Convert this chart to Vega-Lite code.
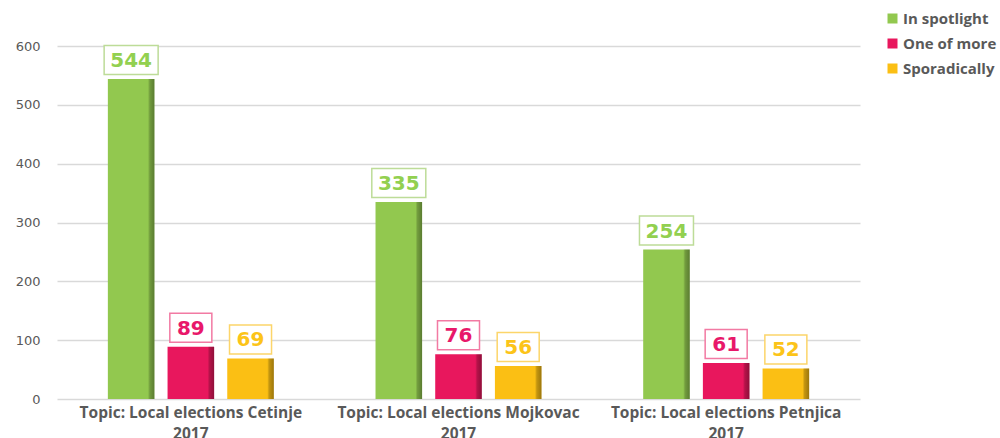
{
  "$schema": "https://vega.github.io/schema/vega-lite/v6.json",
  "width": 803,
  "height": 353,
  "autosize": {"type": "none"},
  "padding": {"left": 57, "top": 46, "right": 140, "bottom": 39},
  "background": "white",
  "config": {"view": {"stroke": null}, "font": "DejaVu Sans"},
  "data": {
    "values": [
      {"topic": "Topic: Local elections Cetinje 2017", "series": "In spotlight", "value": 544},
      {"topic": "Topic: Local elections Cetinje 2017", "series": "One of more", "value": 89},
      {"topic": "Topic: Local elections Cetinje 2017", "series": "Sporadically", "value": 69},
      {"topic": "Topic: Local elections Mojkovac 2017", "series": "In spotlight", "value": 335},
      {"topic": "Topic: Local elections Mojkovac 2017", "series": "One of more", "value": 76},
      {"topic": "Topic: Local elections Mojkovac 2017", "series": "Sporadically", "value": 56},
      {"topic": "Topic: Local elections Petnjica 2017", "series": "In spotlight", "value": 254},
      {"topic": "Topic: Local elections Petnjica 2017", "series": "One of more", "value": 61},
      {"topic": "Topic: Local elections Petnjica 2017", "series": "Sporadically", "value": 52}
    ]
  },
  "encoding": {
    "x": {
      "field": "topic",
      "type": "nominal",
      "sort": null,
      "scale": {"paddingInner": 0.38, "paddingOuter": 0.19},
      "axis": {
        "title": null,
        "domain": false,
        "ticks": false,
        "labelAngle": 0,
        "labelPadding": 6,
        "labelLimit": 0,
        "labelFont": "Open Sans",
        "labelFontSize": 15.5,
        "labelFontWeight": "bold",
        "labelColor": "#595959",
        "labelLineHeight": 21,
        "labelExpr": "[substring(datum.label, 0, length(datum.label) - 5), substring(datum.label, length(datum.label) - 4)]"
      }
    },
    "xOffset": {
      "field": "series",
      "sort": ["In spotlight", "One of more", "Sporadically"],
      "scale": {"paddingInner": 0.22, "paddingOuter": 0}
    },
    "y": {
      "field": "value",
      "type": "quantitative",
      "scale": {"domain": [0, 600]},
      "axis": {
        "title": null,
        "values": [0, 100, 200, 300, 400, 500, 600],
        "domain": false,
        "ticks": false,
        "grid": true,
        "gridColor": "#d9d9d9",
        "gridWidth": 1.5,
        "labelPadding": 17,
        "labelFontSize": 13,
        "labelColor": "#595959"
      }
    }
  },
  "layer": [
    {
      "mark": {"type": "bar"},
      "encoding": {
        "color": {
          "field": "series",
          "type": "nominal",
          "scale": {
            "domain": ["In spotlight", "One of more", "Sporadically"],
            "range": ["#92c84f", "#e8175d", "#fbbf14"]
          },
          "legend": {
            "title": null,
            "orient": "none",
            "legendX": 828,
            "legendY": -35,
            "symbolType": "square",
            "symbolSize": 100,
            "symbolStrokeWidth": 0,
            "labelFont": "Open Sans",
            "labelFontSize": 15,
            "labelFontWeight": "bold",
            "labelColor": "#595959",
            "labelOffset": 3,
            "rowPadding": 9
          }
        }
      }
    },
    {
      "mark": {
        "type": "bar",
        "fill": {
          "gradient": "linear",
          "x1": 0, "x2": 1, "y1": 0, "y2": 0,
          "stops": [
            {"offset": 0, "color": "rgba(0,0,0,0)"},
            {"offset": 0.86, "color": "rgba(0,0,0,0)"},
            {"offset": 0.9, "color": "rgba(0,0,0,0.22)"},
            {"offset": 1, "color": "rgba(0,0,0,0.38)"}
          ]
        }
      }
    },
    {
      "mark": {
        "type": "point",
        "filled": true,
        "fill": "white",
        "fillOpacity": 1,
        "opacity": 1,
        "strokeWidth": 1.5,
        "size": 2916,
        "yOffset": -19
      },
      "encoding": {
        "shape": {
          "condition": {"test": "datum.value >= 100", "value": "M-1,-0.537H1V0.537H-1Z"},
          "value": "M-0.778,-0.537H0.778V0.537H-0.778Z"
        },
        "stroke": {
          "field": "series",
          "type": "nominal",
          "scale": {
            "domain": ["In spotlight", "One of more", "Sporadically"],
            "range": ["#bddc98", "#f27aa3", "#fcd56a"]
          },
          "legend": null
        }
      }
    },
    {
      "mark": {
        "type": "text",
        "font": "DejaVu Sans",
        "fontSize": 20,
        "fontWeight": "bold",
        "baseline": "middle",
        "yOffset": -18
      },
      "encoding": {
        "text": {"field": "value", "type": "quantitative"},
        "fill": {
          "field": "series",
          "type": "nominal",
          "scale": {
            "domain": ["In spotlight", "One of more", "Sporadically"],
            "range": ["#92d050", "#e8186a", "#fcc419"]
          },
          "legend": null
        }
      }
    }
  ]
}
